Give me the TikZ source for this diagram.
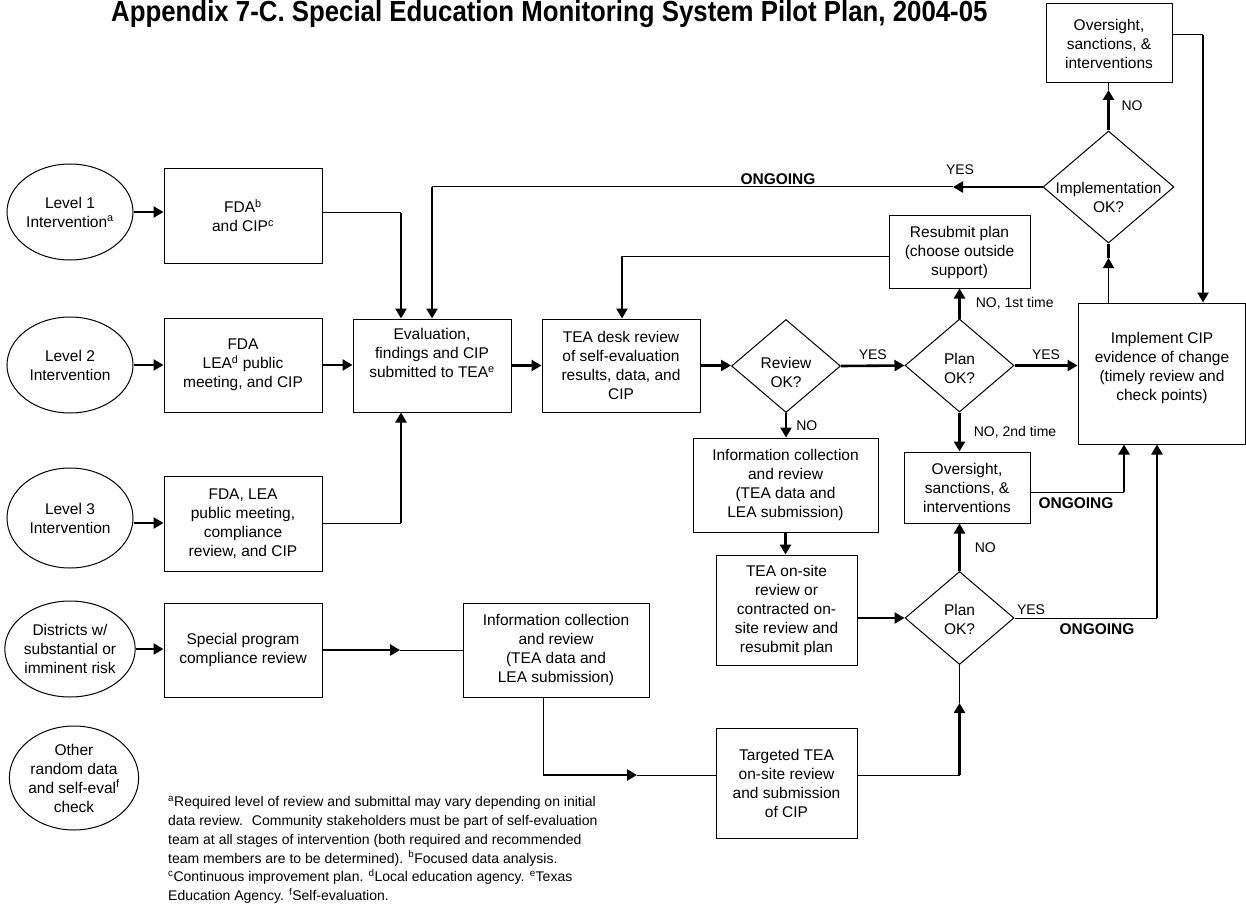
\documentclass[tikz,border=0pt]{standalone}
\usepackage{fontspec}
\setmainfont{Liberation Sans}
\newfontfamily\titlefont[FakeStretch=0.89]{Liberation Sans}
\usetikzlibrary{arrows.meta,shapes.geometric}
\newcommand{\fnm}[1]{\textsuperscript{#1}}
\tikzset{
  base/.style={font=\fontsize{15.5}{19}\selectfont, align=center, inner sep=0pt},
  box/.style={base, draw, line width=1pt, rectangle},
  oval/.style={base, draw, line width=1pt, ellipse},
  dia/.style={draw, line width=1pt, diamond, inner sep=0pt, minimum width=109pt, minimum height=93pt},
  txt/.style={base},
  lbl/.style={font=\fontsize{14}{16}\selectfont, inner sep=0pt},
  ong/.style={font=\fontsize{15.5}{18}\selectfont\bfseries, inner sep=0pt},
  thn/.style={line width=1pt},
  thk/.style={line width=2.6pt},
  tip/.style={-{Triangle[length=10pt,width=11pt]}},
  arr/.style={thk, tip},
}
\begin{document}
\begin{tikzpicture}[x=1pt,y=-1pt]
\useasboundingbox (0,0) rectangle (1246,909);

% title
\node[anchor=base west, inner sep=0pt, font=\fontsize{29}{32}\titlefont\bfseries] (title) at (111,22)
  {Appendix 7-C. Special Education Monitoring System Pilot Plan, 2004-05};

% ellipses
\node[oval, minimum width=126pt, minimum height=96pt] (lev1) at (70,212) {Level 1\\Intervention\fnm{a}};
\node[oval, minimum width=126pt, minimum height=96pt] (lev2) at (70,365) {Level 2\\Intervention};
\node[oval, minimum width=126pt, minimum height=100pt] (lev3) at (70,518) {Level 3\\Intervention};
\node[oval, minimum width=126pt, minimum height=96pt] (dist) at (70,649) {Districts w/\\substantial or\\imminent risk};
\node[oval, minimum width=128pt, minimum height=104pt] (other) at (74,778) {Other\\random data\\and self-eval\fnm{f}\\check};

% boxes
\node[box, minimum width=158pt, minimum height=94pt] (fda1) at (243,216) {FDA\fnm{b}\\and CIP\fnm{c}};
\node[box, minimum width=158pt, minimum height=94pt] (fda2) at (243,365) {FDA\\LEA\fnm{d} public\\meeting, and CIP};
\node[box, minimum width=158pt, minimum height=95pt] (fda3) at (243,523.5) {FDA, LEA\\public meeting,\\compliance\\review, and CIP};
\node[box, minimum width=158pt, minimum height=94pt] (special) at (243,650) {Special program\\compliance review};
\node[box, minimum width=158pt, minimum height=93pt] (eval) at (432,365.5) {Evaluation,\\findings and CIP\\submitted to TEA\fnm{e}\\\strut};
\node[box, minimum width=158pt, minimum height=93pt] (desk) at (621,365.5) {TEA desk review\\of self-evaluation\\results, data, and\\CIP};
\node[box, minimum width=185pt, minimum height=94pt] (info1) at (785.5,485) {Information collection\\and review\\(TEA data and\\LEA submission)};
\node[box, minimum width=141pt, minimum height=110pt] (onsite) at (786.5,610) {TEA on-site\\review or\\contracted on-\\site review and\\resubmit plan};
\node[box, minimum width=186pt, minimum height=94pt] (info2) at (556,650) {Information collection\\and review\\(TEA data and\\LEA submission)};
\node[box, minimum width=141pt, minimum height=110pt] (targ) at (786.5,783) {Targeted TEA\\on-site review\\and submission\\of CIP};
\node[box, minimum width=141pt, minimum height=72pt] (resub) at (959.5,252) {Resubmit plan\\(choose outside\\support)};
\node[box, minimum width=126pt, minimum height=71pt] (overmid) at (967,487.5) {Oversight,\\sanctions, \&\\interventions};
\node[box, minimum width=126pt, minimum height=79pt] (overtop) at (1109,43.5) {Oversight,\\sanctions, \&\\interventions};
\node[box, minimum width=167pt, minimum height=141pt] (impl) at (1161.5,373.5) {};
\node[txt] (implt) at (1162,367.5) {Implement CIP\\evidence of change\\(timely review and\\check points)};

% diamonds
\node[dia] (review) at (786,366) {};
\node[txt] (reviewt) at (786,372) {Review\\OK?};
\node[dia] (plan1) at (959.5,365.5) {};
\node[txt] (plan1t) at (959.5,368) {Plan\\OK?};
\node[dia] (plan2) at (959.5,618) {};
\node[txt] (plan2t) at (959.5,619) {Plan\\OK?};
\node[dia, minimum width=131pt, minimum height=112pt] (implok) at (1108.5,187) {};
\node[txt] (implokt) at (1108.5,197) {Implementation\\OK?};

% bend points
\coordinate (k1) at (401,213);
\coordinate (k3) at (401,523);
\coordinate (k18) at (1124,492);
\coordinate (k19) at (1157,618);
\coordinate (k20) at (622,256);
\coordinate (k21a) at (953,187);
\coordinate (k21b) at (432,187);
\coordinate (k22) at (1108.5,90);
\coordinate (k23) at (1203,35);
\coordinate (k24) at (1108.5,258);
\coordinate (k25) at (400,650);
\coordinate (k26) at (543,775);
\coordinate (k26b) at (637,775);
\coordinate (k27) at (959.5,775);
\coordinate (k27b) at (959.5,703);

% connectors: entry
\draw[arr] (lev1.east) -- (lev1.east -| fda1.west);
\draw[arr] (lev2.east) -- (lev2.east -| fda2.west);
\draw[arr] (lev3.east |- 0,523) -- (fda3.west |- 0,523);
\draw[arr] (dist.east) -- (dist.east -| special.west);

\draw[thn] (k1 -| fda1.east) -- (k1);
\draw[arr] (k1) -- (k1 |- eval.north);
\draw[arr] (fda2.east) -- (fda2.east -| eval.west);
\draw[thn] (k3 -| fda3.east) -- (k3);
\draw[arr] (k3) -- (k3 |- eval.south);
\draw[arr] (eval.east) -- (eval.east -| desk.west);
\draw[arr] (desk.east) -- (desk.east -| review.west);

\draw[arr] (review.east) -- (plan1.west) node[lbl, midway, above=5pt] (yes1) {YES};
\draw[arr] (plan1.east) -- (plan1.east -| impl.west) node[lbl, midway, above=5pt] (yes2) {YES};
\draw[arr] (review.south) -- (review.south |- info1.north) node[lbl, midway, right=9pt] (no1) {NO};
\draw[arr] (info1.south) -- (info1.south |- onsite.north);
\draw[arr] (plan2.west -| onsite.east) -- (plan2.west);

\draw[arr] (plan1.north) -- (plan1.north |- resub.south) node[lbl, midway, right=15pt] (no2) {NO, 1st time};
\draw[arr] (plan1.south) -- (plan1.south |- overmid.north) node[lbl, midway, right=13pt] (no3) {NO, 2nd time};
\draw[arr] (plan2.north) -- (plan2.north |- overmid.south) node[lbl, midway, right=14pt] (no4) {NO};

\draw[thn] (k18 -| overmid.east) -- (k18);
\draw[arr] (k18) -- (k18 |- impl.south);
\node[ong] (ong2) at (1076,503) {ONGOING};
\draw[thn] (plan2.east) -- (k19);
\draw[arr] (k19) -- (k19 |- impl.south);
\node[lbl] (yes3) at (1031,610) {YES};
\node[ong] (ong3) at (1097,629) {ONGOING};

\draw[thn] (k20 -| resub.west) -- (k20);
\draw[arr] (k20) -- (k20 |- desk.north);

\draw[arr] (implok.west) -- (k21a);
\draw[thn] (k21a) -- (k21b);
\draw[arr] (k21b) -- (k21b |- eval.north);
\node[lbl] (yes4) at (960,170) {YES};
\node[ong] (ong1) at (778,179) {ONGOING};

\draw[thn] (implok.north |- overtop.south) -- (k22);
\draw[arr] (implok.north) -- (k22);
\node[lbl] (no5) at (1132,106) {NO};

\draw[thn] (k23 -| overtop.east) -- (k23);
\draw[arr] (k23) -- (k23 |- impl.north);

\draw[thn, tip] (k24 |- impl.north) -- (k24);
\draw[thk] (k24) -- (implok.south);

\draw[arr] (special.east) -- (k25);
\draw[thn] (k25) -- (info2.west);
\draw[thn] (info2.south -| k26) -- (k26);
\draw[arr] (k26) -- (k26b);
\draw[thn] (k26b) -- (k26b -| targ.west);
\draw[thn] (k27 -| targ.east) -- (k27);
\draw[arr] (k27) -- (k27b);
\draw[thn] (k27b) -- (plan2.south);

% footnote
\node[anchor=north west, align=left, inner sep=0pt, font=\fontsize{14}{18.8}\selectfont] (foot) at (168,796)
  {\fnm{a}Required level of review and submittal may vary depending on initial\\
   data review.~ Community stakeholders must be part of self-evaluation\\
   team at all stages of intervention (both required and recommended\\
   team members are to be determined). \fnm{b}Focused data analysis.\\
   \fnm{c}Continuous improvement plan. \fnm{d}Local education agency. \fnm{e}Texas\\
   Education Agency. \fnm{f}Self-evaluation.};
\end{tikzpicture}
\end{document}
